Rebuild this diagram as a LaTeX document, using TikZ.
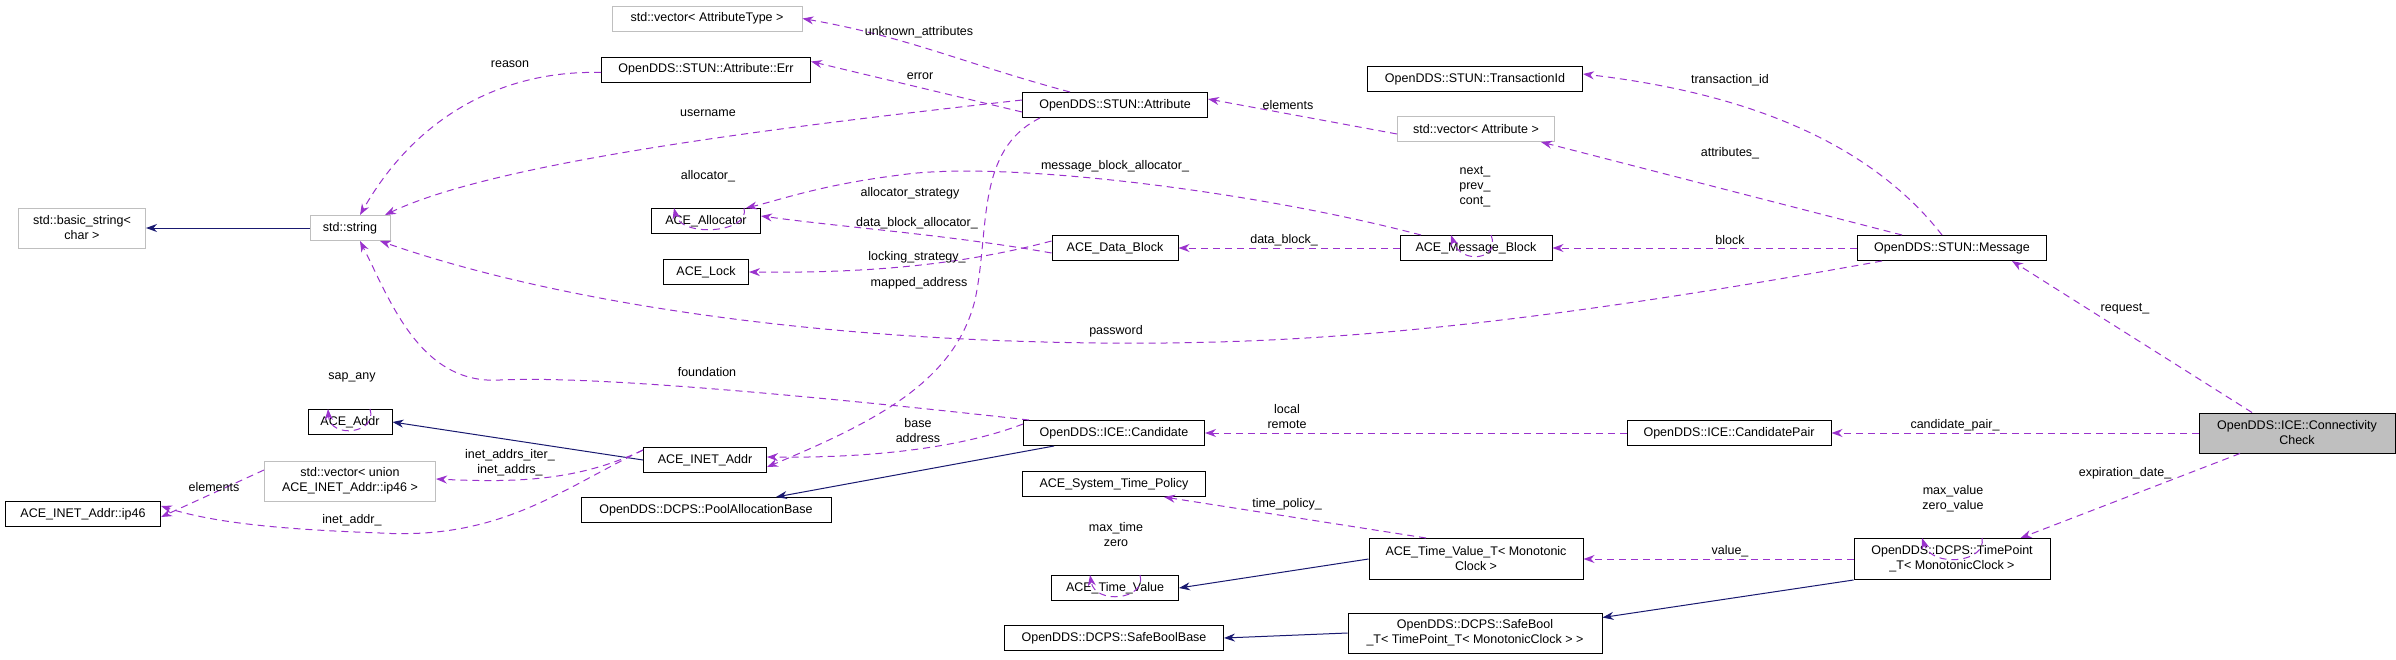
\documentclass[tikz,border=0pt]{standalone}
\usepackage{fontspec}
\setmainfont{Liberation Sans}
\usetikzlibrary{arrows.meta}
\definecolor{pu}{HTML}{9A32CD}
\definecolor{bl}{HTML}{191970}
\definecolor{gb}{HTML}{BFBFBF}
\begin{document}
\begin{tikzpicture}[x=1pt,y=-1pt,
  every node/.style={font=\fontsize{12.5}{15}\selectfont},
  box/.style={draw=black,line width=1pt,fill=white,minimum height=25pt,inner sep=0pt,align=center},
  gbox/.style={box,draw=gb},
  dep/.style={draw=pu,dashed,dash pattern=on 7pt off 5pt,line width=1pt,-{Stealth[length=11pt,width=8pt]},fill=none},
  inh/.style={draw=bl,line width=1pt,-{Stealth[length=11pt,width=8pt,fill=bl]}},
  lab/.style={inner sep=0pt,align=center,fill=none}]
\useasboundingbox (0,0) rectangle (2396,659);
% nodes
\node[gbox,minimum width=190pt] (vat) at (707,18.5) {std::vector< AttributeType >};
\node[box,minimum width=209pt] (err) at (706,69.5) {OpenDDS::STUN::Attribute::Err};
\node[gbox,minimum width=127pt,minimum height=40pt] (bs) at (82,228) {std::basic\_string<\\char >};
\node[gbox,minimum width=80pt] (str) at (350,228) {std::string};
\node[box,minimum width=109pt] (alloc) at (706,221) {ACE\_Allocator};
\node[box,minimum width=85pt] (lock) at (706,272) {ACE\_Lock};
\node[box,minimum width=84pt] (addr) at (350,422) {ACE\_Addr};
\node[box,minimum width=123pt] (inet) at (705,460) {ACE\_INET\_Addr};
\node[gbox,minimum width=171pt,minimum height=40pt] (vip) at (350,481) {std::vector< union\\ ACE\_INET\_Addr::ip46 >};
\node[box,minimum width=155pt] (ip) at (83,514) {ACE\_INET\_Addr::ip46};
\node[box,minimum width=250pt] (pool) at (706,510) {OpenDDS::DCPS::PoolAllocationBase};
\node[box,minimum width=185pt] (attr) at (1115,105) {OpenDDS::STUN::Attribute};
\node[box,minimum width=215pt] (tid) at (1475,79) {OpenDDS::STUN::TransactionId};
\node[gbox,minimum width=157pt] (va) at (1476,129) {std::vector< Attribute >};
\node[box,minimum width=126pt] (db) at (1115,248) {ACE\_Data\_Block};
\node[box,minimum width=152pt] (mb) at (1476,248) {ACE\_Message\_Block};
\node[box,minimum width=181pt] (cand) at (1114,433) {OpenDDS::ICE::Candidate};
\node[box,minimum width=183pt] (stp) at (1114,484) {ACE\_System\_Time\_Policy};
\node[box,minimum width=127pt] (tv) at (1115,588) {ACE\_Time\_Value};
\node[box,minimum width=219pt] (sbb) at (1114,638) {OpenDDS::DCPS::SafeBoolBase};
\node[box,minimum width=214pt,minimum height=41pt] (tvt) at (1476,559) {ACE\_Time\_Value\_T< Monotonic\\Clock >};
\node[box,minimum width=254pt,minimum height=40pt] (sbt) at (1475,633) {OpenDDS::DCPS::SafeBool\\\_T< TimePoint\_T< MonotonicClock > >};
\node[box,minimum width=189pt] (msg) at (1952,248) {OpenDDS::STUN::Message};
\node[box,minimum width=204pt] (cp) at (1729,433) {OpenDDS::ICE::CandidatePair};
\node[box,minimum width=196pt,minimum height=40pt,fill=gb] (cc) at (2297,433) {OpenDDS::ICE::Connectivity\\Check};
\node[box,minimum width=196pt,minimum height=41pt] (tp) at (1952,559) {OpenDDS::DCPS::TimePoint\\\_T< MonotonicClock >};
% inheritance
\draw[inh] (str) -- (bs);
\draw[inh] (inet.west) -- (addr.east);
\draw[inh] ([xshift=-60pt]cand.south) -- ([xshift=70pt]pool.north);
\draw[inh] (tvt.west) -- (tv.east);
\draw[inh] (sbt.west) -- (sbb.east);
\draw[inh] (tp.south west) -- ([yshift=-5pt]sbt.north east);
% dependencies
\draw[dep] ([xshift=-45pt]attr.north) to[out=165,in=-10] (vat.east) ;
\node[lab] (l1) at (919,32) {unknown\_attributes};
\draw[dep] ([yshift=-7pt]attr.west) -- ([yshift=8pt]err.east);
\node[lab] (l2) at (920,76) {error};
\draw[dep] ([yshift=-3pt]err.west) .. controls (510,70) and (420,110) .. ([xshift=10pt]str.north);
\node[lab] (l3) at (510,64) {reason};
\draw[dep] ([yshift=5pt]attr.west) .. controls (800,125) and (500,160) .. ([xshift=35pt]str.north);
\node[lab] (l4) at (708,113) {username};
\draw[dep] ([xshift=-75pt]attr.south) .. controls (975,150) and (990,230) .. (975,300) .. controls (955,380) and (880,420) .. ([yshift=-7pt]inet.east);
\node[lab] (l5) at (919,283) {mapped\_address};
\draw[dep] ([yshift=-5pt]va.west) -- ([yshift=6pt]attr.east);
\node[lab] (l6) at (1288,105) {elements};
\draw[dep] ([xshift=-10pt]msg.north) .. controls (1860,130) and (1720,90) .. ([yshift=5pt]tid.east);
\node[lab] (l7) at (1730,80) {transaction\_id};
\draw[dep] ([xshift=-50pt]msg.north) -- ([xshift=65pt]va.south);
\node[lab] (l8) at (1730,153) {attributes\_};
\draw[dep] (msg) -- (mb);
\node[lab] (l9) at (1730,240) {block};
\draw[dep] ([xshift=-70pt]msg.south) .. controls (1500,330) and (1300,345) .. (1100,343) .. controls (800,340) and (550,300) .. ([xshift=30pt]str.south);
\node[lab] (l10) at (1116,331) {password};
\draw[dep] ([xshift=15pt]mb.north) .. controls ([xshift=25pt,yshift=-25pt]mb.north) and ([xshift=-15pt,yshift=-30pt]mb.north) .. ([xshift=-25pt]mb.north);
\node[lab] (l11) at (1475,187) {next\_\\prev\_\\cont\_};
\draw[dep] (mb) -- (db);
\node[lab] (l12) at (1284,240) {data\_block\_};
\draw[dep] ([xshift=-55pt]mb.north) .. controls (1250,190) and (1000,160) .. (900,175) .. controls (820,185) and (780,200) .. ([xshift=40pt]alloc.north);
\node[lab] (l13) at (1115,166) {message\_block\_allocator\_};
\draw[dep] ([yshift=-5pt]db.west) .. controls (950,235) and (850,228) .. ([yshift=5pt]alloc.east);
\node[lab] (l14) at (910,193) {allocator\_strategy};
\node[lab] (l15) at (917,223) {data\_block\_allocator\_};
\draw[dep] ([yshift=7pt]db.west) .. controls (950,268) and (850,273) .. (lock.east);
\node[lab] (l16) at (917,257) {locking\_strategy\_};
\draw[dep] ([xshift=38pt]alloc.north) .. controls ([xshift=45pt,yshift=-25pt]alloc.north) and ([xshift=-25pt,yshift=-30pt]alloc.north) .. ([xshift=-32pt]alloc.north);
\node[lab] (l17) at (708,176) {allocator\_};
\draw[dep] ([xshift=-85pt]cand.north) .. controls (850,400) and (600,375) .. (500,380) .. controls (420,385) and (390,300) .. ([xshift=10pt]str.south);
\node[lab] (l18) at (707,372) {foundation};
\draw[dep] ([yshift=9pt]cand.west) .. controls (950,452) and (850,458) .. ([yshift=3pt]inet.east);
\node[lab] (l19) at (918,431) {base\\address};
\draw[dep] ([yshift=10pt]inet.west) .. controls (580,480) and (520,483) .. ([yshift=2pt]vip.east);
\node[lab] (l20) at (510,463) {inet\_addrs\_iter\_\\inet\_addrs\_};
\draw[dep] ([yshift=10pt]inet.west) .. controls (560,490) and (500,540) .. (380,533) .. controls (300,530) and (220,525) .. ([yshift=8pt]ip.east);
\node[lab] (l21) at (352,520) {inet\_addr\_};
\draw[dep] ([yshift=11pt]vip.west) -- ([yshift=-3pt]ip.east);
\node[lab] (l22) at (214,487) {elements};
\draw[dep] ([xshift=20pt]addr.north) .. controls ([xshift=28pt,yshift=-25pt]addr.north) and ([xshift=-20pt,yshift=-30pt]addr.north) .. ([xshift=-22pt]addr.north);
\node[lab] (l23) at (352,377) {sap\_any};
\draw[dep] (cp) -- (cand);
\node[lab] (l24) at (1287,417) {local\\remote};
\draw[dep] (cc) -- (cp);
\node[lab] (l25) at (1955,425) {candidate\_pair\_};
\draw[dep] ([xshift=-45pt]cc.north) -- ([xshift=-35pt]msg.south east);
\node[lab] (l26) at (2125,309) {request\_};
\draw[dep] ([xshift=-57pt]cc.south) -- ([xshift=-30pt]tp.north east);
\node[lab] (l27) at (2125,473) {expiration\_date\_};
\draw[dep] ([xshift=30pt]tp.north) .. controls ([xshift=35pt,yshift=-25pt]tp.north) and ([xshift=-20pt,yshift=-30pt]tp.north) .. ([xshift=-30pt]tp.north);
\node[lab] (l28) at (1953,499) {max\_value\\zero\_value};
\draw[dep] (tp) -- (tvt);
\node[lab] (l29) at (1730,551) {value\_};
\draw[dep] ([xshift=-50pt]tvt.north) -- ([xshift=50pt]stp.south);
\node[lab] (l30) at (1287,504) {time\_policy\_};
\draw[dep] ([xshift=25pt]tv.north) .. controls ([xshift=32pt,yshift=-25pt]tv.north) and ([xshift=-20pt,yshift=-30pt]tv.north) .. ([xshift=-25pt]tv.north);
\node[lab] (l31) at (1116,535) {max\_time\\zero};
\end{tikzpicture}
\end{document}
